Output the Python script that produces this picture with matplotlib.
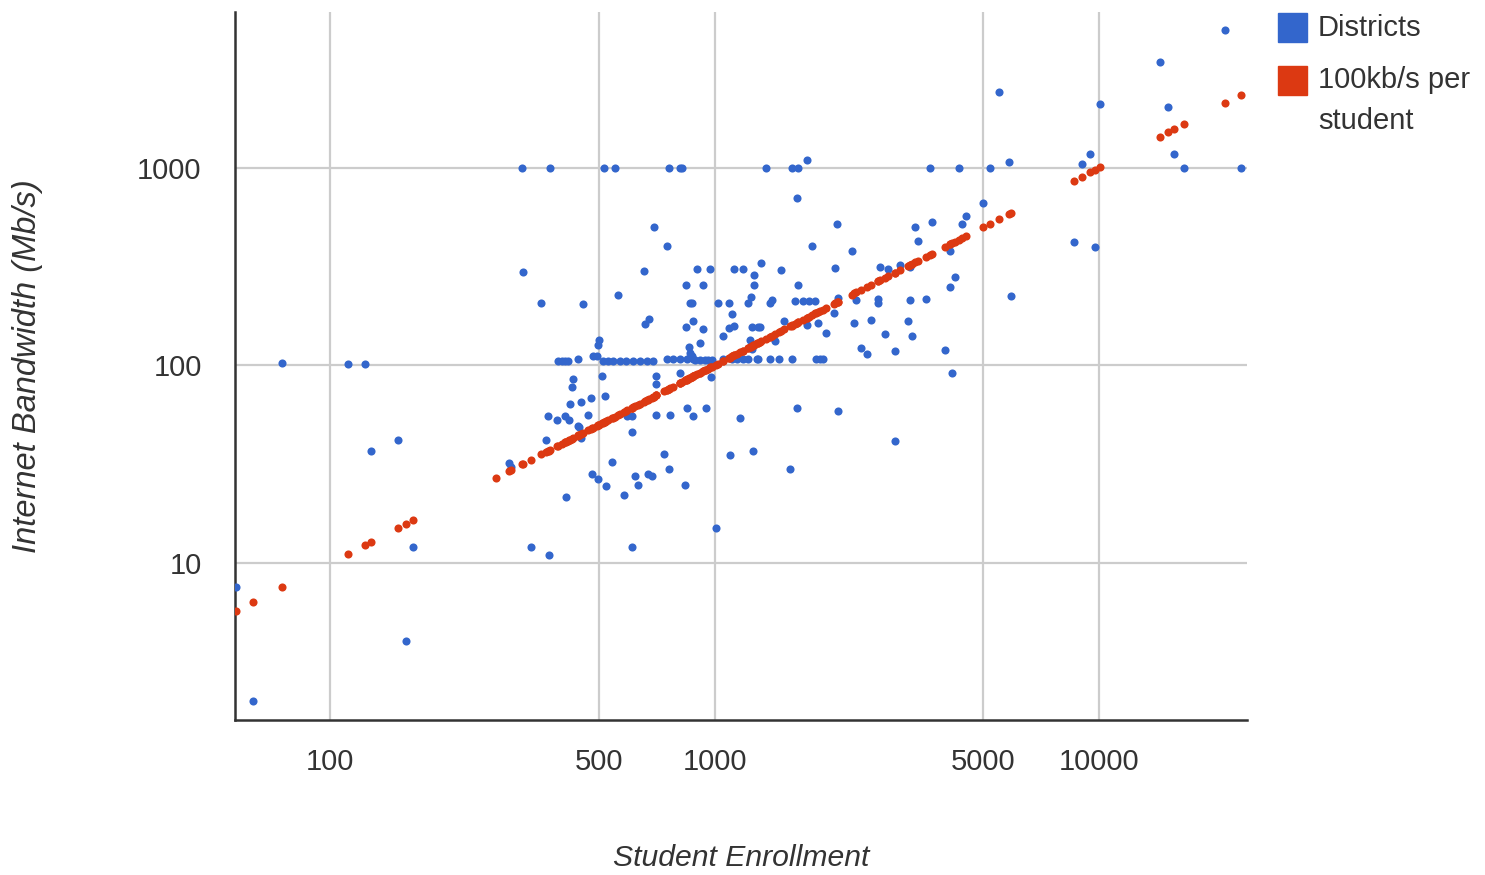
import matplotlib.pyplot as plt
from matplotlib.ticker import FixedLocator, FixedFormatter, NullLocator
from matplotlib.patches import Rectangle

plt.rcParams['font.family'] = ['Liberation Sans', 'DejaVu Sans']

enrollment = [
    57, 63, 75, 111, 123, 128, 150, 157, 164,
    316, 374, 516, 550, 763, 815, 825, 1365, 1590, 1650, 1740, 3630, 4320, 5200,
    5850, 9020, 9500, 15700, 16700, 23400,
    21300, 14400, 5500, 10100, 15100,
    695, 754, 1640, 2085, 1790, 2280, 5000, 3330, 3680, 4400, 4500, 3390, 4100,
    8620, 9800,
    318, 654, 900, 843, 1320, 976, 1122, 1188, 1485, 1270, 935, 1270, 1650, 2060,
    2690, 2820, 3030, 3220, 4220, 4100,
    354, 454, 560, 862, 873, 1020, 1090, 1220, 1245, 1398, 1414, 1620, 1700, 1765,
    1830, 2090, 2670, 2670, 2340, 3230, 3540, 5900,
    658, 675, 843, 878, 935, 1110, 2050, 1055, 1090, 1122, 1250, 1300, 1310, 1520,
    1740, 1860, 1950, 2310, 2560, 3180, 3260, 2780,
    500, 496, 858, 915, 2400, 1240, 1250, 1440, 862, 876, 2490, 2940, 3980,
    392, 401, 409, 416, 442, 483, 494, 512, 528, 544, 567, 590, 613, 640, 667, 692,
    752, 780, 813, 847, 878, 890, 915, 942, 960, 986, 1055, 1110, 1145, 1188, 1225,
    1290, 1295, 1398, 1468, 1595, 1840, 1880, 1915,
    428, 425, 510, 706, 704, 815, 978, 4150, 421, 448, 478, 519,
    369, 389, 409, 417, 469, 441, 850, 880, 704, 765, 592, 610, 950, 1167, 1640, 2090,
    365, 292, 296, 445, 448, 610, 740, 540, 763, 480, 496, 523, 622, 633, 670, 686,
    840, 410, 580, 333, 370, 610, 1009, 1094, 1260, 1574, 2940,
]
bandwidth = [
    7.5, 2.0, 103, 102, 102, 37, 42, 4.0, 12,
    1000, 1000, 1000, 1000, 1000, 1000, 1000, 1000, 1000, 1000, 1100, 1000, 1000, 1000,
    1065, 1050, 1180, 1180, 1000, 1000,
    5000, 3420, 2430, 2110, 2030,
    503, 403, 700, 520, 403, 377, 667, 500, 530, 520, 573, 425, 380,
    420, 395,
    298, 302, 307, 256, 331, 307, 307, 307, 304, 285, 255, 255, 255, 310,
    316, 307, 323, 316, 281, 249,
    207, 204, 226, 207, 207, 207, 207, 207, 222, 207, 215, 212, 212, 212,
    212, 218, 217, 207, 214, 213, 217, 225,
    161, 172, 157, 168, 153, 182, 184, 140, 154, 158, 157, 157, 157, 167,
    160, 163, 146, 163, 170, 168, 140, 144,
    134, 127, 124, 130, 122, 134, 121, 133, 115, 111, 114, 118, 119,
    105, 105, 105, 105, 108, 111, 111, 105, 105, 105, 105, 105, 105, 105, 105, 105,
    108, 108, 108, 108, 108, 107, 107, 107, 107, 107, 108, 108, 108, 108, 108,
    108, 108, 108, 108, 108, 108, 108, 108,
    85, 78, 88, 88, 80, 91, 87, 91, 64, 65, 68, 70,
    55.5, 53, 55.5, 53, 56, 49, 61, 55.5, 56, 56, 55.5, 55.5, 61, 54, 61, 58.5,
    42, 32, 30.7, 48.6, 43, 46, 35.6, 32.5, 30, 28, 26.6, 24.5, 27.4, 24.8, 28, 27.4,
    24.9, 21.5, 22, 12, 11, 12, 15, 35, 37, 30, 41.5,
]
# an enrollment that only shows up in the target series
extra_enrollment = [270]

# the red series is defined as 100 kb/s (0.1 Mb/s) per student
mbps_per_student = 0.1
target_enrollment = sorted(enrollment + extra_enrollment)
target_bandwidth = [e * mbps_per_student for e in target_enrollment]

x_ticks = [100, 500, 1000, 5000, 10000]
x_tick_labels = ['100', '500', '1000', '5000', '10000']
y_ticks = [10, 100, 1000]
y_tick_labels = ['10', '100', '1000']

text_color = '#333333'

fig = plt.figure(figsize=(14.85, 8.75), dpi=100)
ax = fig.add_axes([235 / 1485, 1 - 720 / 875, 1012 / 1485, 708 / 875])

ax.scatter(enrollment, bandwidth, s=34, color='#3366cc', linewidths=0, zorder=3)
ax.scatter(target_enrollment, target_bandwidth, s=34, color='#dc3912',
           linewidths=0, zorder=4)

ax.set_xscale('log')
ax.set_yscale('log')
ax.set_xlim(56.5, 24300)
ax.set_ylim(1.6, 6150)

ax.xaxis.set_major_locator(FixedLocator(x_ticks))
ax.xaxis.set_major_formatter(FixedFormatter(x_tick_labels))
ax.xaxis.set_minor_locator(NullLocator())
ax.yaxis.set_major_locator(FixedLocator(y_ticks))
ax.yaxis.set_major_formatter(FixedFormatter(y_tick_labels))
ax.yaxis.set_minor_locator(NullLocator())

ax.tick_params(axis='both', length=0, labelsize=21, labelcolor=text_color)
ax.tick_params(axis='x', pad=20)
ax.tick_params(axis='y', pad=24)

ax.grid(True, color='#cccccc', linewidth=1.6)
ax.set_axisbelow(True)
for side in ['top', 'right']:
    ax.spines[side].set_visible(False)
for side in ['left', 'bottom']:
    ax.spines[side].set_color('#333333')
    ax.spines[side].set_linewidth(1.8)

ax.set_xlabel('Student Enrollment', fontsize=21.7, style='italic', color=text_color)
ax.xaxis.set_label_coords(0.5, -0.175)
ax.set_ylabel('Internet Bandwidth (Mb/s)', fontsize=23.5, style='italic', color=text_color)
ax.yaxis.set_label_coords(-0.19, 0.5)

# legend drawn by hand, to the right of the plot
fig.add_artist(Rectangle((1278 / 1485, 1 - 42 / 875), 29 / 1485, 29 / 875,
                         transform=fig.transFigure, color='#3366cc'))
fig.add_artist(Rectangle((1278 / 1485, 1 - 95 / 875), 29 / 1485, 29 / 875,
                         transform=fig.transFigure, color='#dc3912'))
fig.text(1318 / 1485, 1 - 28 / 875, 'Districts', fontsize=21, color=text_color,
         va='center', ha='left')
fig.text(1318 / 1485, 1 - 66 / 875, '100kb/s per\nstudent', fontsize=21,
         color=text_color, va='top', ha='left', linespacing=1.6)

fig.savefig('out.png', dpi=100)
